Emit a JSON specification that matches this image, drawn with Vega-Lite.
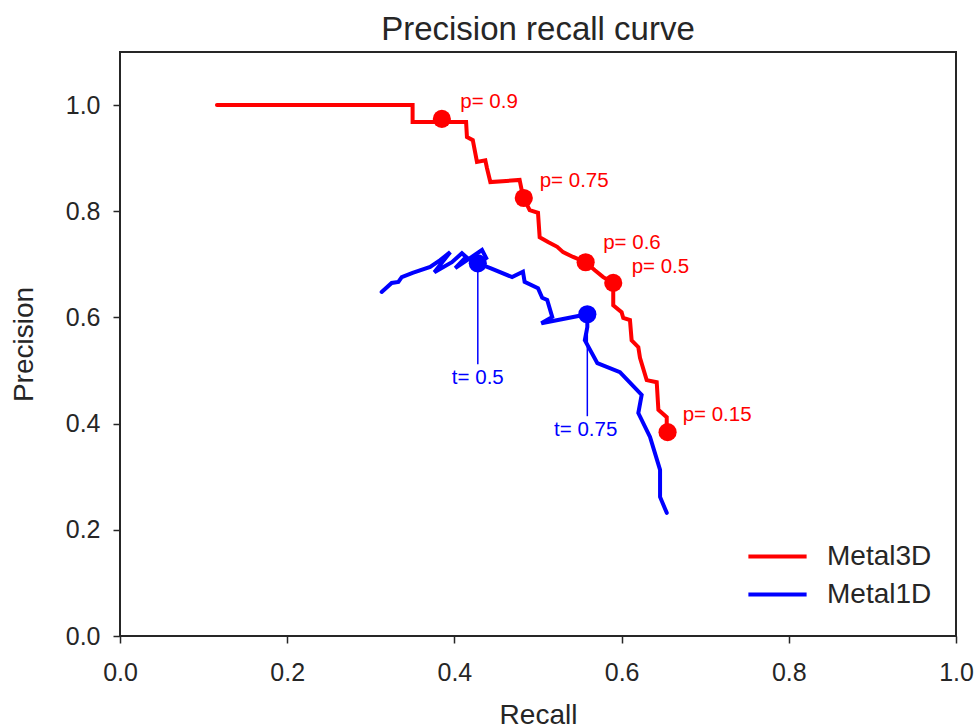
{
  "$schema": "https://vega.github.io/schema/vega-lite/v6.json",
  "width": 836,
  "height": 584,
  "autosize": "none",
  "padding": {"left": 120, "top": 52, "right": 23, "bottom": 92},
  "background": "white",
  "title": {"text": "Precision recall curve", "fontSize": 33, "font": "Liberation Sans", "fontWeight": "normal", "color": "#262626", "offset": 5, "anchor": "middle"},
  "config": {
    "font": "Liberation Sans",
    "view": {"stroke": "#262626", "strokeWidth": 2},
    "axis": {"domain": false, "grid": false, "tickColor": "#262626", "tickWidth": 1.5, "tickSize": 7, "labelColor": "#262626", "titleColor": "#262626", "labelFontSize": 25, "titleFontSize": 28, "titleFontWeight": "normal", "labelFont": "Liberation Sans", "titleFont": "Liberation Sans", "labelFlush": false}
  },
  "datasets": {
    "curves": [
      {"series": "Metal3D", "i": 1, "recall": 0.116, "precision": 1.0},
      {"series": "Metal3D", "i": 2, "recall": 0.350, "precision": 1.0},
      {"series": "Metal3D", "i": 3, "recall": 0.350, "precision": 0.968},
      {"series": "Metal3D", "i": 4, "recall": 0.414, "precision": 0.968},
      {"series": "Metal3D", "i": 5, "recall": 0.415, "precision": 0.940},
      {"series": "Metal3D", "i": 6, "recall": 0.422, "precision": 0.934},
      {"series": "Metal3D", "i": 7, "recall": 0.427, "precision": 0.893},
      {"series": "Metal3D", "i": 8, "recall": 0.437, "precision": 0.896},
      {"series": "Metal3D", "i": 9, "recall": 0.439, "precision": 0.881},
      {"series": "Metal3D", "i": 10, "recall": 0.443, "precision": 0.855},
      {"series": "Metal3D", "i": 11, "recall": 0.478, "precision": 0.859},
      {"series": "Metal3D", "i": 12, "recall": 0.481, "precision": 0.836},
      {"series": "Metal3D", "i": 13, "recall": 0.483, "precision": 0.825},
      {"series": "Metal3D", "i": 14, "recall": 0.490, "precision": 0.802},
      {"series": "Metal3D", "i": 15, "recall": 0.500, "precision": 0.797},
      {"series": "Metal3D", "i": 16, "recall": 0.502, "precision": 0.751},
      {"series": "Metal3D", "i": 17, "recall": 0.512, "precision": 0.742},
      {"series": "Metal3D", "i": 18, "recall": 0.523, "precision": 0.733},
      {"series": "Metal3D", "i": 19, "recall": 0.530, "precision": 0.723},
      {"series": "Metal3D", "i": 20, "recall": 0.542, "precision": 0.714},
      {"series": "Metal3D", "i": 21, "recall": 0.557, "precision": 0.704},
      {"series": "Metal3D", "i": 22, "recall": 0.568, "precision": 0.689},
      {"series": "Metal3D", "i": 23, "recall": 0.578, "precision": 0.676},
      {"series": "Metal3D", "i": 24, "recall": 0.590, "precision": 0.665},
      {"series": "Metal3D", "i": 25, "recall": 0.590, "precision": 0.623},
      {"series": "Metal3D", "i": 26, "recall": 0.600, "precision": 0.610},
      {"series": "Metal3D", "i": 27, "recall": 0.602, "precision": 0.599},
      {"series": "Metal3D", "i": 28, "recall": 0.610, "precision": 0.595},
      {"series": "Metal3D", "i": 29, "recall": 0.612, "precision": 0.557},
      {"series": "Metal3D", "i": 30, "recall": 0.620, "precision": 0.544},
      {"series": "Metal3D", "i": 31, "recall": 0.622, "precision": 0.524},
      {"series": "Metal3D", "i": 32, "recall": 0.630, "precision": 0.482},
      {"series": "Metal3D", "i": 33, "recall": 0.642, "precision": 0.478},
      {"series": "Metal3D", "i": 34, "recall": 0.644, "precision": 0.426},
      {"series": "Metal3D", "i": 35, "recall": 0.654, "precision": 0.412},
      {"series": "Metal3D", "i": 36, "recall": 0.654, "precision": 0.384},
      {"series": "Metal1D", "i": 1, "recall": 0.313, "precision": 0.648},
      {"series": "Metal1D", "i": 2, "recall": 0.325, "precision": 0.665},
      {"series": "Metal1D", "i": 3, "recall": 0.333, "precision": 0.667},
      {"series": "Metal1D", "i": 4, "recall": 0.337, "precision": 0.676},
      {"series": "Metal1D", "i": 5, "recall": 0.350, "precision": 0.684},
      {"series": "Metal1D", "i": 6, "recall": 0.371, "precision": 0.695},
      {"series": "Metal1D", "i": 7, "recall": 0.383, "precision": 0.708},
      {"series": "Metal1D", "i": 8, "recall": 0.395, "precision": 0.723},
      {"series": "Metal1D", "i": 9, "recall": 0.376, "precision": 0.685},
      {"series": "Metal1D", "i": 10, "recall": 0.397, "precision": 0.704},
      {"series": "Metal1D", "i": 11, "recall": 0.409, "precision": 0.721},
      {"series": "Metal1D", "i": 12, "recall": 0.414, "precision": 0.714},
      {"series": "Metal1D", "i": 13, "recall": 0.401, "precision": 0.693},
      {"series": "Metal1D", "i": 14, "recall": 0.433, "precision": 0.727},
      {"series": "Metal1D", "i": 15, "recall": 0.438, "precision": 0.712},
      {"series": "Metal1D", "i": 16, "recall": 0.428, "precision": 0.702},
      {"series": "Metal1D", "i": 17, "recall": 0.443, "precision": 0.693},
      {"series": "Metal1D", "i": 18, "recall": 0.469, "precision": 0.676},
      {"series": "Metal1D", "i": 19, "recall": 0.482, "precision": 0.686},
      {"series": "Metal1D", "i": 20, "recall": 0.484, "precision": 0.667},
      {"series": "Metal1D", "i": 21, "recall": 0.500, "precision": 0.655},
      {"series": "Metal1D", "i": 22, "recall": 0.505, "precision": 0.637},
      {"series": "Metal1D", "i": 23, "recall": 0.511, "precision": 0.633},
      {"series": "Metal1D", "i": 24, "recall": 0.517, "precision": 0.601},
      {"series": "Metal1D", "i": 25, "recall": 0.504, "precision": 0.589},
      {"series": "Metal1D", "i": 26, "recall": 0.559, "precision": 0.606},
      {"series": "Metal1D", "i": 27, "recall": 0.559, "precision": 0.582},
      {"series": "Metal1D", "i": 28, "recall": 0.556, "precision": 0.557},
      {"series": "Metal1D", "i": 29, "recall": 0.571, "precision": 0.514},
      {"series": "Metal1D", "i": 30, "recall": 0.598, "precision": 0.497},
      {"series": "Metal1D", "i": 31, "recall": 0.624, "precision": 0.454},
      {"series": "Metal1D", "i": 32, "recall": 0.620, "precision": 0.420},
      {"series": "Metal1D", "i": 33, "recall": 0.634, "precision": 0.375},
      {"series": "Metal1D", "i": 34, "recall": 0.646, "precision": 0.313},
      {"series": "Metal1D", "i": 35, "recall": 0.646, "precision": 0.262},
      {"series": "Metal1D", "i": 36, "recall": 0.654, "precision": 0.232}
    ],
    "marks": [
      {"series": "Metal3D", "recall": 0.385, "precision": 0.974, "label": "p= 0.9", "lx": 0.407, "ly": 1.006},
      {"series": "Metal3D", "recall": 0.483, "precision": 0.825, "label": "p= 0.75", "lx": 0.502, "ly": 0.857},
      {"series": "Metal3D", "recall": 0.557, "precision": 0.704, "label": "p= 0.6", "lx": 0.578, "ly": 0.740},
      {"series": "Metal3D", "recall": 0.590, "precision": 0.665, "label": "p= 0.5", "lx": 0.612, "ly": 0.695},
      {"series": "Metal3D", "recall": 0.655, "precision": 0.384, "label": "p= 0.15", "lx": 0.673, "ly": 0.416},
      {"series": "Metal1D", "recall": 0.428, "precision": 0.702, "label": "t= 0.5", "lx": 0.428, "ly": 0.486, "ry": 0.512},
      {"series": "Metal1D", "recall": 0.559, "precision": 0.606, "label": "t= 0.75", "lx": 0.557, "ly": 0.388, "ry": 0.414}
    ]
  },
  "layer": [
    {
      "data": {"name": "curves"},
      "mark": {"type": "line", "strokeWidth": 4, "strokeJoin": "miter", "strokeCap": "round"},
      "encoding": {
        "x": {"field": "recall", "type": "quantitative", "scale": {"domain": [0, 1], "nice": false, "zero": false}, "axis": {"title": "Recall", "values": [0, 0.2, 0.4, 0.6, 0.8, 1.0], "format": ".1f", "labelPadding": 17, "titlePadding": 16}},
        "y": {"field": "precision", "type": "quantitative", "scale": {"domain": [0, 1.1], "nice": false, "zero": false}, "axis": {"title": "Precision", "values": [0, 0.2, 0.4, 0.6, 0.8, 1.0], "format": ".1f", "labelPadding": 13, "titlePadding": 27}},
        "order": {"field": "i", "type": "quantitative"},
        "color": {"field": "series", "type": "nominal", "sort": ["Metal3D", "Metal1D"], "scale": {"domain": ["Metal3D", "Metal1D"], "range": ["#ff0000", "#0000ff"]},
          "legend": {"title": null, "orient": "none", "legendX": 635, "legendY": 482, "symbolType": "M-1.42,0H1.42", "symbolSize": 1681, "symbolStrokeWidth": 4, "labelFontSize": 28, "labelColor": "#262626", "labelOffset": 27, "rowPadding": 1, "padding": 0, "labelFont": "Liberation Sans"}}
      }
    },
    {
      "data": {"name": "marks"},
      "transform": [{"filter": "datum.series == 'Metal1D'"}],
      "mark": {"type": "rule", "color": "#0000ff", "strokeWidth": 1.5},
      "encoding": {
        "x": {"field": "recall", "type": "quantitative"},
        "y": {"field": "precision", "type": "quantitative"},
        "y2": {"field": "ry"}
      }
    },
    {
      "data": {"name": "marks"},
      "mark": {"type": "point", "filled": true, "opacity": 1, "strokeWidth": 0},
      "encoding": {
        "x": {"field": "recall", "type": "quantitative"},
        "y": {"field": "precision", "type": "quantitative"},
        "size": {"value": 330},
        "fill": {"field": "series", "type": "nominal", "scale": {"domain": ["Metal3D", "Metal1D"], "range": ["#ff0000", "#0000ff"]}, "legend": null}
      }
    },
    {
      "data": {"name": "marks"},
      "transform": [{"filter": "datum.series == 'Metal3D'"}],
      "mark": {"type": "text", "align": "left", "baseline": "middle", "fontSize": 20.5, "font": "Liberation Sans", "color": "#ff0000"},
      "encoding": {
        "x": {"field": "lx", "type": "quantitative"},
        "y": {"field": "ly", "type": "quantitative"},
        "text": {"field": "label"}
      }
    },
    {
      "data": {"name": "marks"},
      "transform": [{"filter": "datum.series == 'Metal1D'"}],
      "mark": {"type": "text", "align": "center", "baseline": "middle", "fontSize": 20.5, "font": "Liberation Sans", "color": "#0000ff"},
      "encoding": {
        "x": {"field": "lx", "type": "quantitative"},
        "y": {"field": "ly", "type": "quantitative"},
        "text": {"field": "label"}
      }
    }
  ]
}
